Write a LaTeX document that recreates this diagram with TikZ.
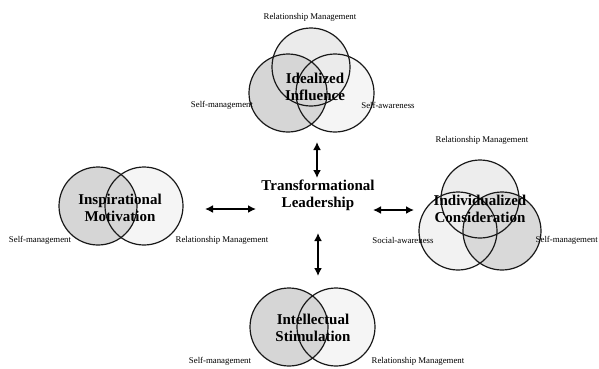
\documentclass[tikz,border=0pt]{standalone}
\usepackage{fontspec}
\setmainfont{Liberation Serif}
\usetikzlibrary{arrows.meta}
\tikzset{>={Latex[length=8pt,width=8pt]}}
\tikzstyle{venn} = [circle, minimum size=78pt, inner sep=0]
\tikzstyle{ring} = [draw=black!90, line width=1.2pt]
\tikzstyle{big} = [align=center, inner sep=0, font=\fontsize{15}{16.5}\selectfont\bfseries]
\tikzstyle{small} = [inner sep=0, font=\fontsize{8.8}{10}\selectfont]
\tikzstyle{link} = [<->, line width=1.8pt]

\begin{document}
\begin{tikzpicture}[x=1pt, y=-1pt]
\useasboundingbox (0,0) rectangle (599,368);

% idealized influence (top)
\node [venn, fill=black!4] (iir) at (335,93) {};
\node [venn, fill=black!8] (iit) at (311,67) {};
\node [venn, fill=black!16] (iil) at (288,93) {};
% inspirational motivation (left)
\node [venn, fill=black!4] (imr) at (144,206) {};
\node [venn, fill=black!16] (iml) at (98,206) {};
% individualized consideration (right)
\node [venn, fill=black!5] (icl) at (458,231) {};
\node [venn, fill=black!7] (ict) at (480,199) {};
\node [venn, fill=black!15] (icr) at (502,231) {};
% intellectual stimulation (bottom)
\node [venn, fill=black!4] (isr) at (336,327) {};
\node [venn, fill=black!16] (isl) at (289,327) {};

\foreach \c in {iir,iit,iil,imr,iml,icl,ict,icr,isr,isl}
  \draw [ring] (\c.center) circle (39pt);

\node [big] (ii) at (315,87) {Idealized\\Influence};
\node [big] (im) at (120,208) {Inspirational\\Motivation};
\node [big] (ic) at (480,209) {Individualized\\Consideration};
\node [big] (is) at (313,328) {Intellectual\\Stimulation};
\node [big, font=\fontsize{15}{17}\selectfont\bfseries] (tl) at (318,195) {Transformational\\Leadership};

\node [small] (iirm) at (310,17) {Relationship Management};
\node [small] (iism) at (222,105) {Self-management};
\node [small] (iisa) at (388,105) {Self-awareness};
\node [small] (imsm) at (40,240) {Self-management};
\node [small] (imrm) at (222,240) {Relationship Management};
\node [small] (icrm) at (482,140) {Relationship Management};
\node [small] (icsa) at (403,240) {Social-awareness};
\node [small, anchor=east] (icsm) at (598,240) {Self-management};
\node [small] (issm) at (220,361) {Self-management};
\node [small] (isrm) at (418,361) {Relationship Management};

\coordinate (up1) at (317,142);
\coordinate (up2) at (317,178);
\coordinate (lt1) at (205,209);
\coordinate (lt2) at (256,209);
\coordinate (rt1) at (373,210);
\coordinate (rt2) at (414,210);
\coordinate (dn1) at (318,233);
\coordinate (dn2) at (318,276);
\draw [link] (up1) -- (up2);
\draw [link] (lt1) -- (lt2);
\draw [link] (rt1) -- (rt2);
\draw [link] (dn1) -- (dn2);
\end{tikzpicture}
\end{document}
